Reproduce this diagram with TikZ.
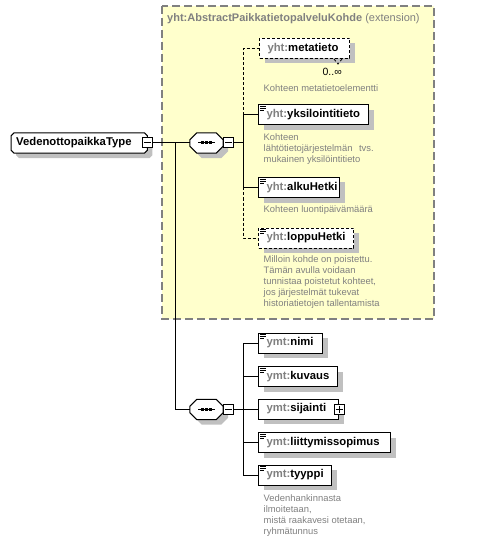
\documentclass[tikz,border=0pt]{standalone}
\usepackage{fontspec}
\setmainfont{Liberation Sans}
\usetikzlibrary{shadows,calc}
\definecolor{extfill}{RGB}{255,255,204}
\definecolor{extline}{RGB}{128,128,128}
\definecolor{shgray}{RGB}{192,192,192}
\definecolor{pfx}{RGB}{128,128,128}
\definecolor{desccol}{RGB}{128,128,128}
\pgfdeclarelayer{back}
\pgfdeclarelayer{bg}
\pgfsetlayers{back,bg,main}
\newcommand\nm[2]{\textcolor{pfx}{#1:}#2}
\newcommand\octo[2]{%
  \draw[shad, fill=white, line width=1bp]
    ([xshift=#2bp]#1.north west) -- ([xshift=-#2bp]#1.north east)
    -- ([yshift=-#2bp]#1.north east) -- ([yshift=#2bp]#1.south east)
    -- ([xshift=-#2bp]#1.south east) -- ([xshift=#2bp]#1.south west)
    -- ([yshift=#2bp]#1.south west) -- ([yshift=-#2bp]#1.north west) -- cycle;}
\newcommand\seqdots[1]{%
  \draw[line width=1bp] ([xshift=-8.5bp]#1.center) -- ([xshift=8.5bp]#1.center);
  \fill ([xshift=-4bp]#1.center) +(-1.5,-1.5) rectangle +(1.5,1.5);
  \fill (#1.center) +(-1.5,-1.5) rectangle +(1.5,1.5);
  \fill ([xshift=4bp]#1.center) +(-1.5,-1.5) rectangle +(1.5,1.5);}
\newcommand\minus[1]{\draw[line width=1bp] ([xshift=2bp]#1.west) -- ([xshift=-2bp]#1.east);}
\newcommand\plus[1]{\minus{#1}\draw[line width=1bp] ([yshift=-2bp]#1.north) -- ([yshift=2bp]#1.south);}
\newcommand\lineicon[1]{%
  \draw[line width=0.8bp] ([xshift=2bp,yshift=-2bp]#1.north west) -- ++(6,0)
    ([xshift=2bp,yshift=-4bp]#1.north west) -- ++(6,0)
    ([xshift=2bp,yshift=-6bp]#1.north west) -- ++(4,0);}
\tikzset{
  shad/.style={general shadow={fill=shgray, shadow xshift=5bp, shadow yshift=-5bp}},
  namefont/.style={font=\fontsize{11.3bp}{13bp}\selectfont\bfseries},
  elem/.style={draw, fill=white, line width=1bp, shad, anchor=west, inner xsep=8bp,
    inner ysep=0pt, minimum height=20bp, namefont},
  opt/.style={dash pattern=on 3bp off 2bp},
  conn/.style={line width=1bp},
  tog/.style={draw, fill=white, line width=1bp, minimum size=10bp, inner sep=0pt},
  desc/.style={anchor=north west, inner sep=0pt, align=left, text=desccol,
    font=\fontsize{9.4bp}{11bp}\selectfont},
  seqn/.style={minimum width=33bp, minimum height=20bp, inner sep=0pt},
  mainn/.style={anchor=west, minimum height=20bp, inner xsep=5bp, inner ysep=0pt, namefont},
  extbox/.style={fill=extfill, draw=extline, line width=1.5bp, dash pattern=on 8bp off 4bp},
  hdr/.style={anchor=west, inner sep=0pt, text=pfx, font=\fontsize{11bp}{13bp}\selectfont},
}
\begin{document}
\begin{tikzpicture}[x=1bp,y=-1bp]
\useasboundingbox (0,0) rectangle (477,541);
\begin{pgfonlayer}{back}
  \draw[extbox] (162,6) rectangle (434,319);
\end{pgfonlayer}
\node[hdr] (hdr) at (167,19) {\textbf{yht:AbstractPaikkatietopalveluKohde} (extension)};

% main type
\node[mainn] (main) at (11,143) {\makebox[126bp][l]{VedenottopaikkaType}};
\begin{pgfonlayer}{bg}\octo{main}{3}\end{pgfonlayer}
\node[tog] (mm) at (main.east) {};
\minus{mm}

% sequence 1
\node[seqn] (s1) at (206.5,143) {};
\begin{pgfonlayer}{bg}\octo{s1}{7}\end{pgfonlayer}
\seqdots{s1}
\node[tog, anchor=west] (m1) at (s1.east) {};
\minus{m1}

% sequence 2
\node[seqn] (s2) at (206.5,409.5) {};
\begin{pgfonlayer}{bg}\octo{s2}{7}\end{pgfonlayer}
\seqdots{s2}
\node[tog, anchor=west] (m2) at (s2.east) {};
\minus{m2}

% elements of sequence 1
\node[elem, opt] (e1) at (259,48.5) {\makebox[74bp][l]{\nm{yht}{metatieto}}};
\node[elem] (e2) at (258,115) {\makebox[94bp][l]{\nm{yht}{yksilointitieto}}};
\node[elem] (e3) at (258,187.5) {\makebox[65bp][l]{\nm{yht}{alkuHetki}}};
\node[elem, opt] (e4) at (258,238) {\makebox[79bp][l]{\nm{yht}{loppuHetki}}};
\lineicon{e2}\lineicon{e3}\lineicon{e4}
\draw[line width=0.8bp, opt] ([xshift=-16bp]e1.south east) -- ++(4,5) -- ++(4,-5);
\node[anchor=east, inner sep=0pt, font=\fontsize{10.5bp}{12bp}\selectfont] (mult) at (342,72) {0..∞};

% elements of sequence 2
\node[elem] (e5) at (258,343) {\makebox[48bp][l]{\nm{ymt}{nimi}}};
\node[elem] (e6) at (258,376.5) {\makebox[63bp][l]{\nm{ymt}{kuvaus}}};
\node[elem] (e7) at (258,409) {\makebox[64bp][l]{\nm{ymt}{sijainti}}};
\node[elem] (e8) at (258,442.5) {\makebox[116bp][l]{\nm{ymt}{liittymissopimus}}};
\node[elem] (e9) at (258,475) {\makebox[57bp][l]{\nm{ymt}{tyyppi}}};
\lineicon{e5}\lineicon{e6}\lineicon{e8}\lineicon{e9}
\node[tog] (p7) at (e7.east) {};
\plus{p7}

% descriptions
\node[desc] (d1) at (263.5,84) {Kohteen metatietoelementti};
\node[desc] (d2) at (263.5,133) {Kohteen\\lähtötietojärjestelmän\hspace{4bp} tvs.\\mukainen yksilöintitieto};
\node[desc] (d3) at (263.5,205) {Kohteen luontipäivämäärä};
\node[desc] (d4) at (263.5,255) {Milloin kohde on poistettu.\\Tämän avulla voidaan\\tunnistaa poistetut kohteet,\\jos järjestelmät tukevat\\historiatietojen tallentamista};
\node[desc] (d5) at (263.5,494) {Vedenhankinnasta\\ilmoitetaan,\\mistä raakavesi otetaan,\\ryhmätunnus};

% connectors
\coordinate (t1) at (175,143);
\coordinate (b1) at (243,143);
\coordinate (b2) at (243,409.5);
\draw[conn] (mm.east) -- (s1.west);
\draw[conn] (t1) |- (s2.west);
\draw[conn] (m1.east) -- (b1);
\draw[conn] (b1) |- (e2.west);
\draw[conn] (b1) |- (e3.west);
\draw[conn, opt] (b1 |- e2.west) |- (e1.west);
\draw[conn, opt] (b1 |- e3.west) |- (e4.west);
\draw[conn] (m2.east) -- (b2);
\draw[conn] (b2) |- (e5.west);
\draw[conn] (b2) |- (e6.west);
\draw[conn] (b2) |- (e7.west);
\draw[conn] (b2) |- (e8.west);
\draw[conn] (b2) |- (e9.west);
\end{tikzpicture}
\end{document}
